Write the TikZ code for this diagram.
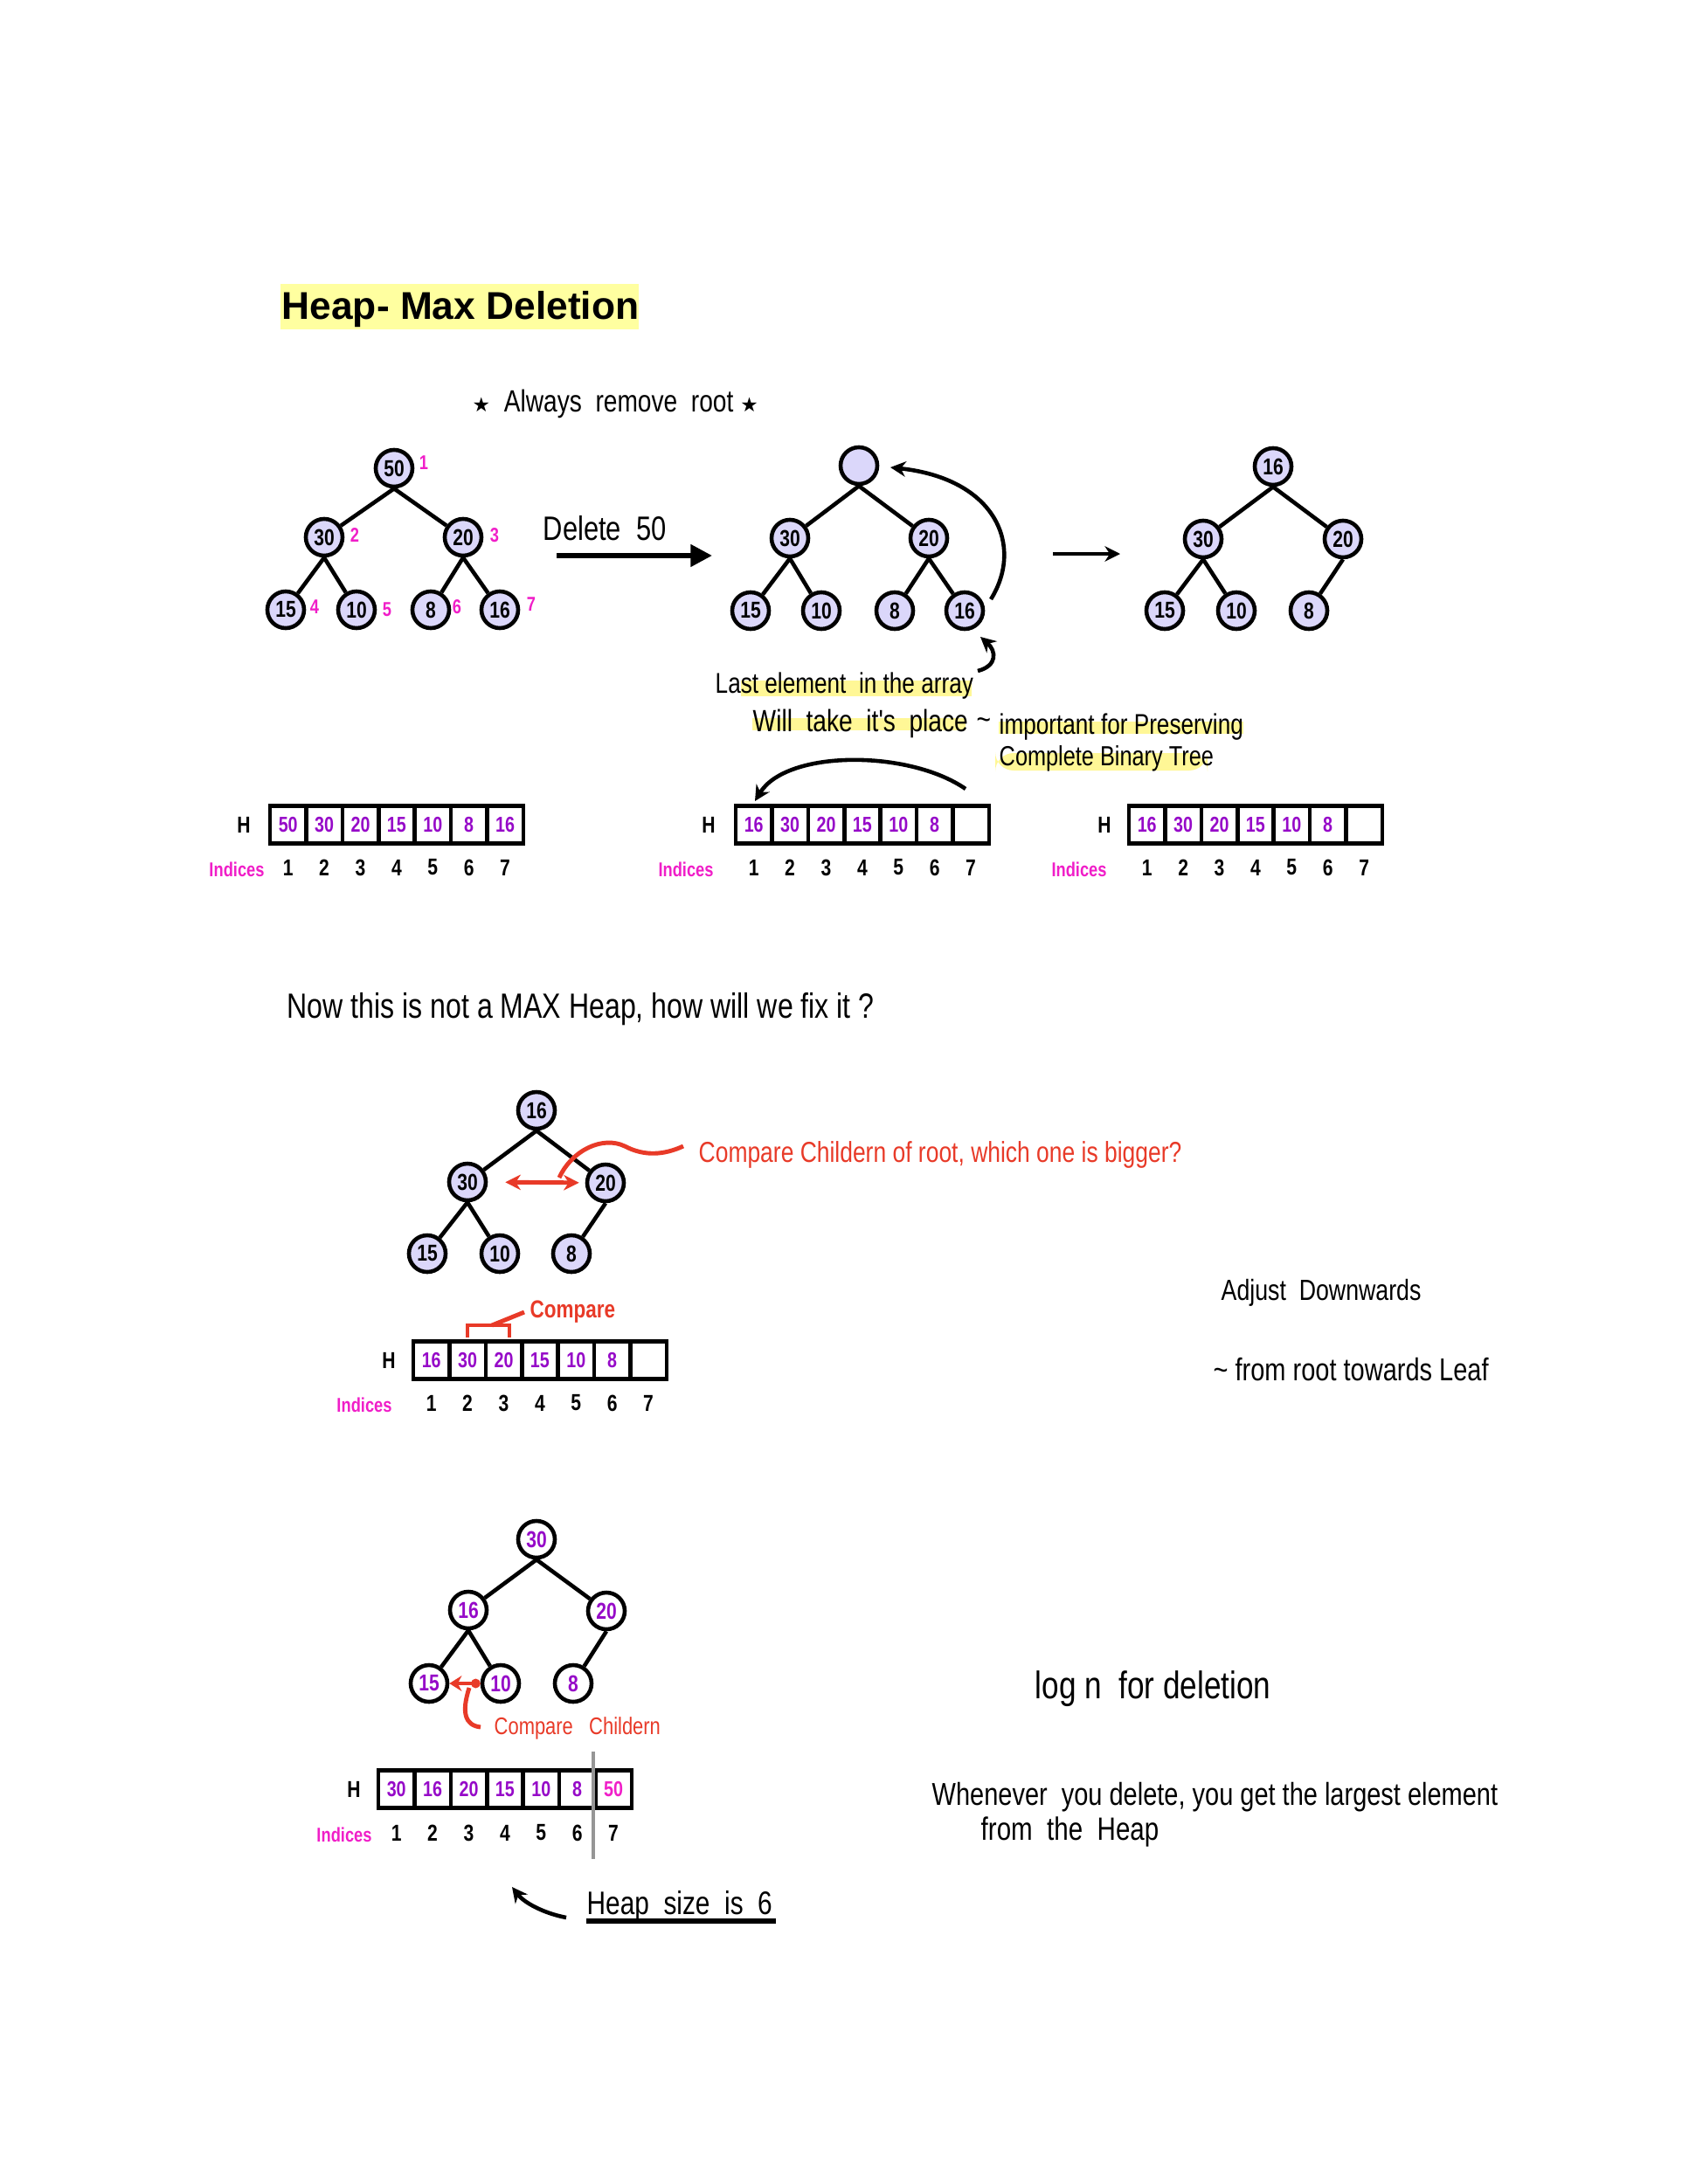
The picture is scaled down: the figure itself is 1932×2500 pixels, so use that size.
\documentclass[tikz,border=0pt]{standalone}
\usepackage{fontspec}
\usetikzlibrary{arrows.meta}
\setmainfont{Liberation Sans}
\newfontfamily\hand[FakeStretch=0.8]{Liberation Sans}
\newfontfamily\symf{DejaVu Sans}
\definecolor{lav}{RGB}{219,215,250}
\definecolor{pur}{RGB}{150,10,200}
\definecolor{mag}{RGB}{240,30,200}
\definecolor{redc}{RGB}{232,58,40}
\definecolor{titley}{RGB}{255,255,160}
\definecolor{hl}{RGB}{255,247,150}
\definecolor{grayl}{RGB}{150,150,150}
\newcommand{\fs}[1]{\fontsize{#1}{#1}\selectfont}
\tikzset{
 tn/.style={circle,draw,line width=1.3pt,fill=lav,minimum size=0.42cm,inner sep=0pt,font=\hand\bfseries\fs{7.5}},
 tnw/.style={tn,fill=white,text=pur},
 tedge/.style={line width=1.3pt},
 acell/.style={rectangle,draw,line width=1.3pt,minimum width=0.414cm,minimum height=0.43cm,inner sep=0pt,font=\hand\bfseries\fs{7},text=pur},
 idx/.style={font=\hand\bfseries\fs{7.5},inner sep=0pt},
 indl/.style={font=\hand\bfseries\fs{6.5},text=mag,inner sep=0pt},
 tlab/.style={font=\hand\bfseries\fs{6.5},text=mag,inner sep=0pt},
 txt/.style={anchor=west,inner sep=0pt,font=\hand\fs{#1}},
 rtxt/.style={txt=#1,text=redc},
 blk/.style={line width=1.3pt},
 rline/.style={line width=1.4pt,draw=redc},
 tip/.style={-{Stealth[length=5pt,width=5pt]}},
}
\newcommand{\heaprow}[5]{%
 \foreach \v [count=\k] in {#4} \node[acell] (#1c\k) at ({#2+41.4*(\k-0.5)},#3) {\v};
 \foreach \k in {1,...,7} \node[idx] (#1n\k) at ({#2+41.4*(\k-0.5)},#5) {\k};
}
\begin{document}
\begin{tikzpicture}[x=0.01cm,y=-0.01cm]
\useasboundingbox (0,0) rectangle (1932,2500);
% title
\fill[titley] (321,325) rectangle (731,377);
\node[anchor=west,inner sep=0pt,font=\bfseries\fs{12.6}] (title) at (322,354) {Heap- Max Deletion};
\node[txt=10] (always) at (540,462) {{\symf\fs{6.5}★}\ \ Always \ remove \ root {\symf\fs{6.5}★}};

% tree 1
\node[tn] (t1a) at (451,536) {50};
\node[tn] (t1b) at (371,615) {30};
\node[tn] (t1c) at (530,615) {20};
\node[tn] (t1d) at (327,698) {15};
\node[tn] (t1e) at (408,698) {10};
\node[tn] (t1f) at (493,698) {8};
\node[tn] (t1g) at (572,698) {16};
\draw[tedge] (t1a.south)--(t1b) (t1a.south)--(t1c) (t1b.south)--(t1d) (t1b.south)--(t1e) (t1c.south)--(t1f) (t1c.south)--(t1g);
\node[tlab] (l1) at (485,530) {1};
\node[tlab] (l2) at (406,613) {2};
\node[tlab] (l3) at (566,613) {3};
\node[tlab] (l4) at (360,695) {4};
\node[tlab] (l5) at (443,698) {5};
\node[tlab] (l6) at (523,695) {6};
\node[tlab] (l7) at (608,692) {7};

% delete arrow
\node[txt=11] (del) at (621,605) {Delete \ 50};
\coordinate (d1) at (637,636);
\coordinate (d2) at (815,636);
\draw[line width=1.6pt,-{Triangle[length=7pt,width=7pt]}] (d1)--(d2);

% tree 2
\node[tn] (t2a) at (983,533) {};
\node[tn] (t2b) at (904,616) {30};
\node[tn] (t2c) at (1063,616) {20};
\node[tn] (t2d) at (859,699) {15};
\node[tn] (t2e) at (940,699) {10};
\node[tn] (t2f) at (1024,699) {8};
\node[tn] (t2g) at (1104,699) {16};
\draw[tedge] (t2a.south)--(t2b) (t2a.south)--(t2c) (t2b.south)--(t2d) (t2b.south)--(t2e) (t2c.south)--(t2f) (t2c.south)--(t2g);
\coordinate (c1) at (1134,686);
\coordinate (c2) at (1019,535);
\draw[blk,tip] (c1) .. controls (1172,625) and (1140,548) .. (c2);
\coordinate (h1) at (1119,768);
\coordinate (h2) at (1122,729);
\draw[blk,tip] (h1) .. controls (1142,762) and (1140,745) .. (h2);

% notes
\fill[hl] (848,779) rectangle (1112,797);
\fill[hl] (861,822) rectangle (1105,836);
\fill[hl] (1143,826) rectangle (1423,840);
\fill[hl,rounded corners=6pt] (1139,862) rectangle (1382,882);
\node[txt=9.3] (n1) at (818,785) {Last element \ in the array};
\node[txt=10] (n2) at (861,828) {Will \ take \ it's \ place};
\node[txt=10] (n3) at (1117,829) {\textasciitilde};
\node[txt=9.3] (n4) at (1143,832) {important for Preserving};
\node[txt=9] (n5) at (1143,868) {Complete Binary Tree};

% arrow 2
\coordinate (e1) at (1205,634);
\coordinate (e2) at (1282,634);
\draw[blk,tip] (e1)--(e2);

% tree 3
\node[tn] (t3a) at (1457,534) {16};
\node[tn] (t3b) at (1377,617) {30};
\node[tn] (t3c) at (1537,617) {20};
\node[tn] (t3d) at (1333,699) {15};
\node[tn] (t3e) at (1415,699) {10};
\node[tn] (t3f) at (1498,699) {8};
\draw[tedge] (t3a.south)--(t3b) (t3a.south)--(t3c) (t3b.south)--(t3d) (t3b.south)--(t3e) (t3c.south)--(t3f);

% arrays row 1
\node[idx] (A1h) at (279,944) {H};
\node[indl] (A1i) at (271,995) {Indices};
\heaprow{A1}{309}{944}{50,30,20,15,10,8,16}{993}
\node[idx] (A2h) at (811,944) {H};
\node[indl] (A2i) at (785,995) {Indices};
\heaprow{A2}{842}{944}{16,30,20,15,10,8,{}}{993}
\coordinate (r1) at (1105,903);
\coordinate (r2) at (864,917);
\draw[blk,tip] (r1) .. controls (1040,858) and (900,858) .. (r2);
\node[idx] (A3h) at (1264,944) {H};
\node[indl] (A3i) at (1235,995) {Indices};
\heaprow{A3}{1292}{944}{16,30,20,15,10,8,{}}{993}

% question
\node[txt=11.4] (q) at (328,1155) {Now this is not a MAX Heap, how will we fix it ?};

% tree 4
\node[tn] (t4a) at (614,1271) {16};
\node[tn] (t4b) at (535,1353) {30};
\node[tn] (t4c) at (693,1354) {20};
\node[tn] (t4d) at (489,1435) {15};
\node[tn] (t4e) at (572,1435) {10};
\node[tn] (t4f) at (654,1435) {8};
\draw[tedge] (t4a.south)--(t4b) (t4a.south)--(t4c) (t4b.south)--(t4d) (t4b.south)--(t4e) (t4c.south)--(t4f);
\draw[rline,shorten <=0.2cm,shorten >=0.07cm,{Stealth[length=5pt,width=5pt]}-{Stealth[length=5pt,width=5pt]}] (t4b) -- (t4c);
\coordinate (s1) at (640,1348);
\coordinate (s2) at (782,1312);
\draw[rline] (s1) .. controls (655,1316) and (690,1300) .. (715,1312) .. controls (738,1324) and (760,1322) .. (s2);
\node[rtxt=9.4] (cq) at (799,1322) {Compare Childern of root, which one is bigger?};

% array 4
\node[idx] (A4h) at (445,1557) {H};
\node[indl] (A4i) at (417,1608) {Indices};
\heaprow{A4}{473}{1557}{16,30,20,15,10,8,{}}{1606}
\coordinate (b1) at (535,1531);
\coordinate (b2) at (583,1531);
\coordinate (b3) at (563,1517);
\coordinate (b4) at (600,1502);
\draw[rline] (b1) -- (535,1517) -- (583,1517) -- (b2);
\draw[rline] (b3) -- (b4);
\node[rtxt=8,font=\hand\bfseries\fs{8}] (cmp) at (606,1502) {Compare};

\node[txt=9.5] (adj) at (1397,1480) {Adjust \ Downwards};
\node[txt=10.3] (adj2) at (1388,1568) {\textasciitilde\ from root towards Leaf};

% tree 5
\node[tnw] (t5a) at (614,1762) {30};
\node[tnw] (t5b) at (536,1843) {16};
\node[tnw] (t5c) at (694,1844) {20};
\node[tnw] (t5d) at (491,1927) {15};
\node[tnw] (t5e) at (573,1927) {10};
\node[tnw] (t5f) at (656,1927) {8};
\draw[tedge] (t5a.south)--(t5b) (t5a.south)--(t5c) (t5b.south)--(t5d) (t5b.south)--(t5e) (t5c.south)--(t5f);
\draw[rline,{Stealth[length=4pt,width=5pt]}-{Circle[length=3pt]}] (t5d) -- (t5e);
\coordinate (k1) at (537,1932);
\coordinate (k2) at (550,1977);
\draw[rline] (k1) .. controls (528,1960) and (532,1975) .. (k2);
\node[rtxt=7.8] (cc) at (565,1978) {Compare \ \ Childern};

% array 5
\node[idx] (A5h) at (405,2048) {H};
\node[indl] (A5i) at (394,2100) {Indices};
\heaprow{A5}{433}{2048}{30,16,20,15,10,8,\textcolor{mag}{50}}{2098}
\coordinate (g1) at (679,2005);
\coordinate (g2) at (679,2128);
\draw[grayl,line width=1.4pt] (g1) -- (g2);

\node[txt=10.6] (hs) at (671,2182) {Heap \ size \ is \ 6};
\coordinate (u1) at (671,2199);
\coordinate (u2) at (888,2199);
\draw[line width=1.6pt] (u1) -- (u2);
\coordinate (w1) at (648,2195);
\coordinate (w2) at (586,2160);
\draw[blk,tip] (w1) .. controls (622,2190) and (600,2178) .. (w2);

\node[txt=12.5] (logn) at (1184,1933) {log n\ \ for deletion};
\node[txt=10.3] (wh) at (1066,2057) {Whenever\ \ you delete, you get the largest element};
\node[txt=10.5] (wh2) at (1122,2097) {from \ the \ Heap};
\end{tikzpicture}
\end{document}
